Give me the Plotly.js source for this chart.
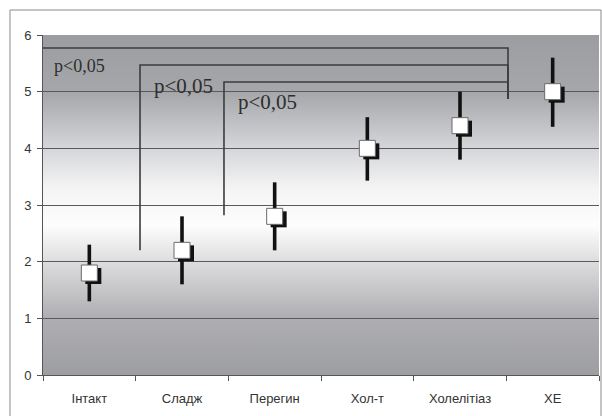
<!DOCTYPE html>
<html><head><meta charset="utf-8">
<script src="https://cdn.plot.ly/plotly-3.0.1.min.js"></script>
<style>html,body{margin:0;padding:0;background:#fff;}#chart{width:602px;height:416px;}</style>
</head><body><div id="chart"></div>
<script>
// ---- data ----
const categories = ['Інтакт', 'Сладж', 'Перегин', 'Хол-т', 'Холелітіаз', 'ХЕ'];
const means = [1.8, 2.2, 2.8, 4.0, 4.4, 5.0];
const lows  = [1.3, 1.6, 2.2, 3.43, 3.8, 4.38];
const highs = [2.3, 2.8, 3.4, 4.55, 5.0, 5.6];
// significance brackets: left x (category units), right x, height, left foot, right foot
const bracketLeft   = [-0.03, 1.047, 1.953];
const bracketRight  = [5.018, 5.018, 5.018];
const bracketTop    = [5.77, 5.47, 5.17];
const bracketLeftFoot  = [1.9, 2.2, 2.82];
const bracketRightFoot = [4.87, 4.87, 4.87];
const bracketLabels = ['p<0,05', 'p<0,05', 'p<0,05'];
const labelX = [0.1, 1.18, 2.085];
const labelY = [5.45, 5.1, 4.82];
const labelSize = [18, 21, 21];

// ---- build ----
const xc = categories.map((c, i) => i + 0.5);
const wx = [], wy = [];
xc.forEach((x, i) => { wx.push(x, x, null); wy.push(lows[i], highs[i], null); });

const bx = [], by = [];
bracketTop.forEach((t, i) => {
  bx.push(bracketLeft[i], bracketLeft[i], bracketRight[i], bracketRight[i], null);
  by.push(bracketLeftFoot[i], t, t, bracketRightFoot[i], null);
});

const shadowDX = 0.043, shadowDY = 0.053;

const traces = [
  {x: bx, y: by, mode: 'lines', line: {color: '#3c3c3c', width: 1.6}, cliponaxis: false, hoverinfo: 'skip', showlegend: false},
  {x: wx, y: wy, mode: 'lines', line: {color: '#111', width: 3.6}, hoverinfo: 'skip', showlegend: false},
  {x: xc.map(x => x + shadowDX), y: means.map(m => m - shadowDY), mode: 'markers',
   marker: {symbol: 'square', size: 16, color: '#111', line: {width: 0}}, hoverinfo: 'skip', showlegend: false},
  {x: xc, y: means, mode: 'markers',
   marker: {symbol: 'square', size: 16, color: '#ffffff', line: {width: 1, color: '#6a6a6a'}}, showlegend: false}
];

const grad = '<svg xmlns="http://www.w3.org/2000/svg" width="10" height="100" preserveAspectRatio="none">' +
  '<defs><linearGradient id="g" x1="0" y1="0" x2="0" y2="1">' +
  '<stop offset="0" stop-color="#9c9da1"/>' +
  '<stop offset="0.17" stop-color="#a6a7ab"/>' +
  '<stop offset="0.33" stop-color="#d4d5d8"/>' +
  '<stop offset="0.45" stop-color="#f4f4f5"/>' +
  '<stop offset="0.56" stop-color="#fdfdfd"/>' +
  '<stop offset="0.67" stop-color="#dcdcde"/>' +
  '<stop offset="0.83" stop-color="#afafb3"/>' +
  '<stop offset="1" stop-color="#9d9ea2"/>' +
  '</linearGradient></defs><rect width="10" height="100" fill="url(#g)"/></svg>';

const annotations = bracketLabels.map((t, i) => ({
  x: labelX[i], y: labelY[i], xref: 'x', yref: 'y', text: t, showarrow: false,
  xanchor: 'left', yanchor: 'middle',
  font: {family: '"Liberation Serif", "Times New Roman", serif', size: labelSize[i], color: '#2e2e2e'}
}));

const layout = {
  width: 602, height: 416,
  margin: {l: 43, r: 3, t: 35, b: 41},
  paper_bgcolor: '#ffffff', plot_bgcolor: 'rgba(0,0,0,0)',
  font: {family: '"Liberation Sans", Arial, sans-serif', size: 13, color: '#333'},
  xaxis: {
    range: [0, 6], tickmode: 'array', tickvals: xc, ticktext: categories,
    ticks: '', showgrid: false, zeroline: false, showline: true, linecolor: '#555', linewidth: 1,
    ticklabelstandoff: 11,
    minor: {tickmode: 'array', tickvals: [0, 1, 2, 3, 4, 5, 6], ticks: 'outside', ticklen: 5, tickcolor: '#555', showgrid: false},
    fixedrange: true
  },
  yaxis: {
    range: [0, 6], dtick: 1, ticks: 'outside', ticklen: 5, tickcolor: '#555',
    showgrid: true, gridcolor: '#5a5a5a', gridwidth: 1, zeroline: false,
    showline: true, linecolor: '#555', linewidth: 1, ticklabelstandoff: 3,
    fixedrange: true
  },
  images: [{
    source: 'data:image/svg+xml;charset=utf-8,' + encodeURIComponent(grad),
    xref: 'paper', yref: 'paper', x: 0, y: 1, sizex: 1, sizey: 1,
    xanchor: 'left', yanchor: 'top', sizing: 'stretch', layer: 'below'
  }],
  shapes: [{
    type: 'rect', xref: 'paper', yref: 'paper',
    x0: -0.0594, x1: 1.0036, y0: -0.125, y1: 1.0735,
    line: {color: '#8a8a8a', width: 1}, fillcolor: 'rgba(0,0,0,0)', layer: 'below'
  }],
  annotations: annotations,
  showlegend: false
};

Plotly.newPlot('chart', traces, layout, {staticPlot: true, displayModeBar: false});
</script></body></html>
